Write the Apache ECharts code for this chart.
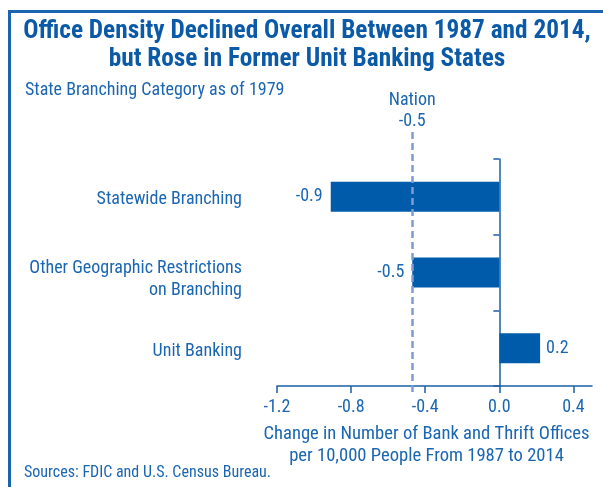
<!DOCTYPE html>
<html><head><meta charset="utf-8">
<script src="https://cdn.jsdelivr.net/npm/echarts@6/dist/echarts.min.js"></script>
<style>html,body{margin:0;padding:0;background:#fff}#c{width:603px;height:487px}</style>
</head><body><div id="c"></div>
<script>
const titleLines = ['Office Density Declined Overall Between 1987 and 2014,', 'but Rose in Former Unit Banking States'];
const subtitle = 'State Branching Category as of 1979';
const categories = ['Statewide Branching', 'Other Geographic Restrictions\non Branching', 'Unit Banking'];
const values = [-0.91, -0.47, 0.22];
const nationValue = -0.47;
const nationLabel = 'Nation\n-0.5';
const xTicks = [-1.2, -0.8, -0.4, 0.0, 0.4];
const xName = 'Change in Number of Bank and Thrift Offices\nper 10,000 People From 1987 to 2014';
const sourceText = 'Sources: FDIC and U.S. Census Bureau.';

const FONT = "'Roboto Condensed', 'DejaVu Sans Condensed', sans-serif";
const TXT = '#1b66b2';
const TITLE_C = '#0b5aa8';
const BAR = '#005bab';
const AXIS = '#1c5fa9';
const FRAME = '#1b64b0';

function catLabel(v) {
  const lines = String(v).split('\n');
  const body = lines.map(l => '{a|' + l + '}').join('\n');
  return lines.length > 1 ? '{s| }\n' + body : body;
}

const chart = echarts.init(document.getElementById('c'), null, {renderer: 'canvas'});
chart.setOption({
  animation: false,
  textStyle: {fontFamily: FONT},
  grid: {left: 277, right: 11, top: 159, bottom: 101, containLabel: false, outerBoundsMode: 'none'},
  graphic: [
    {type: 'rect', shape: {x: 8, y: 10, width: 595, height: 3}, style: {fill: FRAME}, silent: true},
    {type: 'rect', shape: {x: 8, y: 10, width: 3, height: 477}, style: {fill: FRAME}, silent: true},
    {type: 'text', x: 307, y: 18, style: {text: titleLines.join('\n'), align: 'center', verticalAlign: 'top',
      fontFamily: FONT, fontWeight: 'bold', fontSize: 25.3, lineHeight: 28, fill: TITLE_C}},
    {type: 'text', x: 25, y: 90, style: {text: subtitle, align: 'left', verticalAlign: 'middle',
      fontFamily: FONT, fontSize: 18, fill: TXT}},
    {type: 'text', x: 24, y: 473, style: {text: sourceText, align: 'left', verticalAlign: 'middle',
      fontFamily: FONT, fontSize: 16, fill: TXT}}
  ],
  xAxis: {
    type: 'value', min: -1.2, max: 0.5, interval: 0.4,
    splitLine: {show: false},
    axisLine: {show: true, onZero: false, lineStyle: {color: AXIS, width: 1.5}},
    axisTick: {show: true, length: 7, customValues: xTicks, lineStyle: {color: AXIS, width: 1.5}},
    axisLabel: {customValues: xTicks, formatter: v => Number(v).toFixed(1), color: TXT, fontSize: 18, margin: 12, fontFamily: FONT},
    name: xName, nameLocation: 'middle', nameGap: 37,
    nameTextStyle: {color: TXT, fontSize: 18.6, lineHeight: 22, fontFamily: FONT, padding: [0, 16, 0, 0]}
  },
  yAxis: [
    {type: 'category', inverse: true, position: 'left', data: categories,
      axisLine: {show: false, onZero: false}, axisTick: {show: false},
      axisLabel: {formatter: catLabel, margin: 35, align: 'right', padding: [6, 0, 0, 0],
        rich: {
          a: {color: TXT, fontSize: 18, lineHeight: 22, fontFamily: FONT, align: 'right'},
          s: {fontSize: 4, lineHeight: 7, fontFamily: FONT}
        }}},
    {type: 'category', data: categories, inverse: true, position: 'left',
      axisLine: {show: true, onZero: true, lineStyle: {color: AXIS, width: 1.5}},
      axisTick: {show: true, length: 6, lineStyle: {color: AXIS, width: 1.5}},
      axisLabel: {show: false}}
  ],
  series: [{
    type: 'bar', yAxisIndex: 0, barWidth: 30,
    data: values.map(v => ({value: v, label: {position: v < 0 ? 'left' : 'right', distance: v < 0 ? 8 : 6}})),
    itemStyle: {color: BAR},
    label: {show: true, formatter: p => p.value.toFixed(1), color: TXT, fontSize: 18, fontFamily: FONT},
    markLine: {
      silent: true, symbol: ['none', 'none'],
      lineStyle: {type: [7, 4], color: '#7f9cd0', width: 2.5},
      label: {show: true, position: 'start', formatter: nationLabel, color: TXT, fontSize: 18, lineHeight: 21, distance: 0, fontFamily: FONT},
      data: [[{xAxis: nationValue, y: 132}, {xAxis: nationValue, y: 394}]]
    }
  }]
});
</script></body></html>
